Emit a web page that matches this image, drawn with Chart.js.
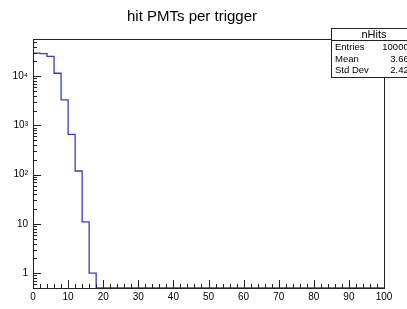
<!DOCTYPE html>
<html>
<head>
<meta charset="utf-8">
<script src="https://cdn.jsdelivr.net/npm/chart.js@4/dist/chart.umd.min.js"></script>
<style>
  body { margin: 0; background: #fff; }
  canvas { display: block; }
</style>
</head>
<body>
<canvas id="histo" width="407" height="309"></canvas>
<script>
// nHits histogram, bins of width 2 from 0 to 100 (bins after 18 are empty)
const binWidth = 2;
const xMax = 100;
const counts = [29500, 28800, 25400, 11500, 3310, 662, 119, 11, 1];
const yMin = 0.5;
const yMax = 57000;

const xTickValues = [0, 10, 20, 30, 40, 50, 60, 70, 80, 90, 100];
const yTickValues = [1, 10, 100, 1000, 10000];
const yTickLabels = ['1', '10', '10²', '10³', '10⁴'];

const statsTitle = 'nHits';
const statsNames = ['Entries', 'Mean', 'Std Dev'];
const statsValues = ['100000', '3.665', '2.423'];

// step points at each bin's left edge, empty bins sit on the axis floor
const points = [];
for (let i = 0; i < xMax / binWidth; i++) {
  const c = counts[i] || 0;
  points.push({ x: i * binWidth, y: Math.max(c, yMin) });
}
points.push({ x: xMax, y: points[points.length - 1].y });

const FONT = "'Liberation Sans', Arial, sans-serif";

// ROOT-like frame, inside ticks and stats box
const rootFrame = {
  id: 'rootFrame',
  afterDatasetsDraw(chart) {
    const ctx = chart.ctx;
    const a = chart.chartArea;
    const xs = chart.scales.x;
    const ys = chart.scales.y;
    ctx.save();
    ctx.strokeStyle = '#222';
    ctx.lineWidth = 1;
    ctx.strokeRect(Math.round(a.left) + 0.5, Math.round(a.top) + 0.5,
                   Math.round(a.right - a.left), Math.round(a.bottom - a.top));

    ctx.beginPath();
    // x ticks every 2, long every 10
    for (let v = 0; v <= xMax; v += 2) {
      const px = Math.round(xs.getPixelForValue(v)) + 0.5;
      const len = v % 10 === 0 ? 8 : 4;
      ctx.moveTo(px, a.bottom);
      ctx.lineTo(px, a.bottom - len);
    }
    // y ticks: decades long, 2..9 short
    for (let d = -1; d <= 4; d++) {
      for (let k = 1; k <= 9; k++) {
        const v = k * Math.pow(10, d);
        if (v < yMin || v > yMax) continue;
        const py = Math.round(ys.getPixelForValue(v)) + 0.5;
        const len = k === 1 ? 8 : 4;
        ctx.moveTo(a.left, py);
        ctx.lineTo(a.left + len, py);
      }
    }
    ctx.stroke();
    ctx.restore();
  },
  afterDraw(chart) {
    const ctx = chart.ctx;
    const bx = 331.5, by = 28.5, bw = 90, bh = 49;
    ctx.save();
    ctx.fillStyle = '#fff';
    ctx.fillRect(bx, by, bw, bh);
    ctx.strokeStyle = '#222';
    ctx.lineWidth = 1;
    ctx.strokeRect(bx, by, bw, bh);
    ctx.beginPath();
    ctx.moveTo(bx, 40.5);
    ctx.lineTo(bx + bw, 40.5);
    ctx.stroke();

    ctx.fillStyle = '#000';
    ctx.textBaseline = 'middle';
    ctx.font = '11px ' + FONT;
    ctx.textAlign = 'center';
    ctx.fillText(statsTitle, 374, 34.5);
    ctx.font = '9.5px ' + FONT;
    statsNames.forEach((n, i) => {
      const y = 47.5 + i * 11.5;
      ctx.textAlign = 'left';
      ctx.fillText(n, 335, y);
      ctx.textAlign = 'right';
      ctx.fillText(statsValues[i], 414, y);
    });
    ctx.restore();
  }
};

new Chart(document.getElementById('histo'), {
  type: 'line',
  data: {
    datasets: [{
      data: points,
      stepped: 'before',
      borderColor: '#3a3ac4',
      borderWidth: 1.3,
      pointRadius: 0,
      fill: false
    }]
  },
  options: {
    responsive: false,
    animation: false,
    devicePixelRatio: 1,
    layout: { padding: { left: 0, right: 23, top: 0, bottom: 0 } },
    plugins: {
      legend: { display: false },
      tooltip: { enabled: false },
      title: {
        display: true,
        text: 'hit PMTs per trigger',
        color: '#000',
        font: { family: FONT, size: 15, weight: 'normal' },
        padding: { top: 8, bottom: 13 }
      }
    },
    scales: {
      x: {
        type: 'linear',
        min: 0,
        max: xMax,
        grid: { display: false, drawTicks: false },
        border: { display: false },
        afterBuildTicks: (s) => { s.ticks = xTickValues.map(v => ({ value: v })); },
        afterFit: (s) => { s.height = 21; },
        ticks: {
          color: '#000',
          font: { family: FONT, size: 10 },
          padding: 3,
          maxRotation: 0,
          autoSkip: false
        }
      },
      y: {
        type: 'logarithmic',
        min: yMin,
        max: yMax,
        grid: { display: false, drawTicks: false },
        border: { display: false },
        afterBuildTicks: (s) => { s.ticks = yTickValues.map(v => ({ value: v })); },
        afterFit: (s) => { s.width = 33; },
        ticks: {
          color: '#000',
          font: { family: FONT, size: 10 },
          padding: 5,
          autoSkip: false,
          callback: (v) => yTickLabels[yTickValues.indexOf(v)]
        }
      }
    }
  },
  plugins: [rootFrame]
});
</script>
</body>
</html>
